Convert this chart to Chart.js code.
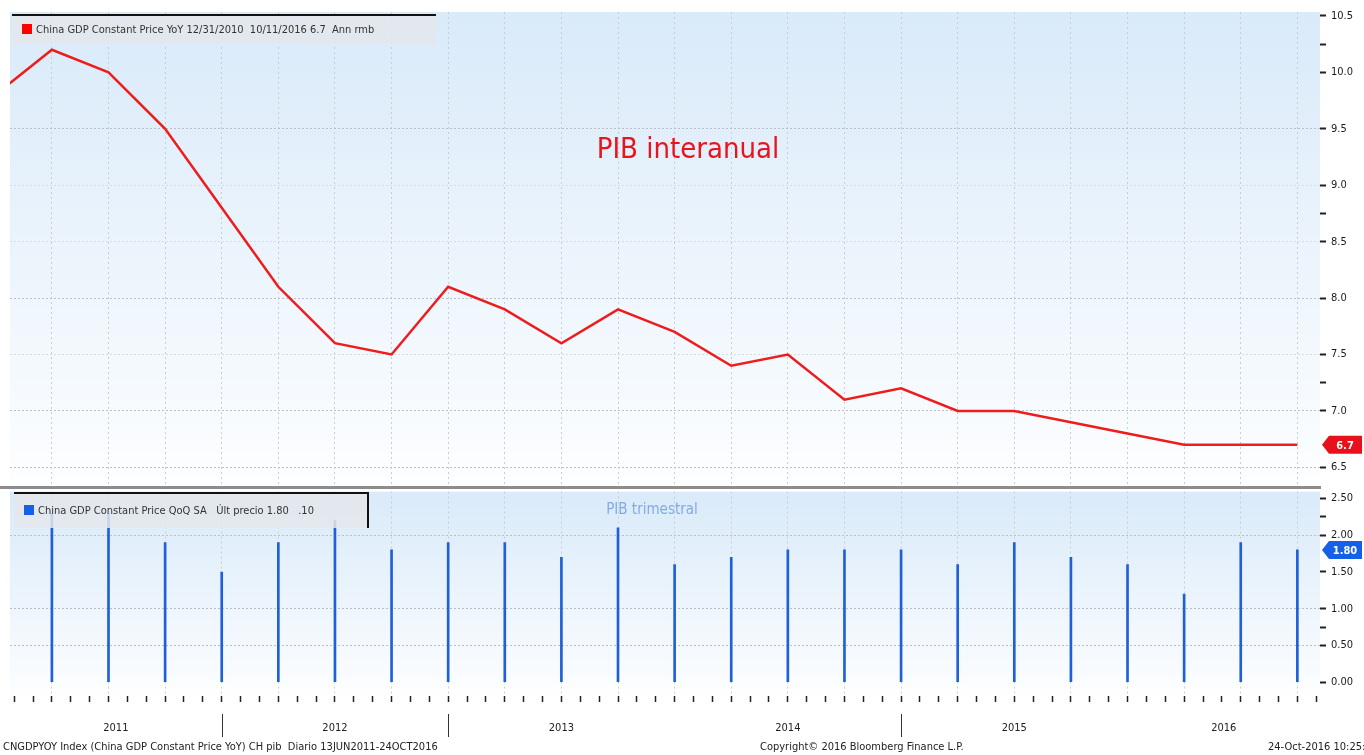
<!DOCTYPE html>
<html>
<head>
<meta charset="utf-8">
<script src="https://cdn.jsdelivr.net/npm/chart.js@4.4.1/dist/chart.umd.min.js"></script>
<style>
    body { margin: 0; background: #fff; width: 1364px; height: 755px; overflow: hidden; position: relative; }
    canvas { position: absolute; left: 0; }
    #yoyChart { top: 0; }
    #qoqChart { top: 480px; }
    #separator { position: absolute; left: 0; top: 486px; width: 1321px; height: 3px; background: #8c8c8c; }
    .footer { position: absolute; top: 740px; font: 11px "DejaVu Sans Condensed", "DejaVu Sans", sans-serif; color: #222; white-space: nowrap; }
</style>
</head>
<body>
<canvas id="yoyChart" width="1364" height="497"></canvas>
<canvas id="qoqChart" width="1364" height="275"></canvas>
<div id="separator"></div>
<div class="footer" style="left:3px">CNGDPYOY Index (China GDP Constant Price YoY) CH pib&nbsp; Diario 13JUN2011-24OCT2016</div>
<div class="footer" style="left:760px">Copyright© 2016 Bloomberg Finance L.P.</div>
<div class="footer" style="left:1268px">24-Oct-2016 10:25:30</div>
<script>
// quarterly observations, 4T 2010 -> 3T 2016
const quarters = [
    '4T10', '1T11', '2T11', '3T11', '4T11', '1T12', '2T12', '3T12', '4T12',
    '1T13', '2T13', '3T13', '4T13', '1T14', '2T14', '3T14', '4T14',
    '1T15', '2T15', '3T15', '4T15', '1T16', '2T16', '3T16'
];
const yoyValues = [
    9.8, 10.2, 10.0, 9.5, 8.8, 8.1, 7.6, 7.5, 8.1,
    7.9, 7.6, 7.9, 7.7, 7.4, 7.5, 7.1, 7.2,
    7.0, 7.0, 6.9, 6.8, 6.7, 6.7, 6.7
];
const qoqValues = [
    null, 2.3, 2.3, 1.9, 1.5, 1.9, 2.2, 1.8, 1.9,
    1.9, 1.7, 2.1, 1.6, 1.7, 1.8, 1.8, 1.8,
    1.6, 1.9, 1.7, 1.6, 1.2, 1.9, 1.8
];
const years = ['2011', '2012', '2013', '2014', '2015', '2016'];
const yearStarts = [0, 4, 8, 12, 16, 20];
const yearDividers = [4, 8, 16];
const yoyTicks = [6.5, 7.0, 7.25, 7.5, 8.0, 8.5, 8.75, 9.0, 9.5, 10.0, 10.25, 10.5];
const qoqTicks = [0, 0.5, 0.75, 1.0, 1.5, 2.0, 2.25, 2.5];

const FONT = '"DejaVu Sans Condensed", "DejaVu Sans", sans-serif';
const X_MIN = 0.26;
const X_MAX = 23.4;

document.addEventListener('DOMContentLoaded', () => {
    Chart.defaults.font.family = FONT;
    Chart.defaults.font.size = 11;
    Chart.defaults.color = '#222';

    initYoyChart();
    initQoqChart();
});

function isWhole(v) {
    return Math.abs(v - Math.round(v)) < 1e-6;
}

const panelBackground = {
    id: 'panelBackground',
    beforeDraw(chart) {
        const { ctx, chartArea: a } = chart;
        const g = ctx.createLinearGradient(0, a.top, 0, a.bottom);
        g.addColorStop(0, '#d9eaf9');
        g.addColorStop(1, '#fdfeff');
        ctx.save();
        ctx.fillStyle = g;
        ctx.fillRect(a.left, a.top, a.right - a.left, a.bottom - a.top);
        ctx.restore();
    }
};

function drawBadge(ctx, x, y, text, color) {
    ctx.save();
    ctx.fillStyle = color;
    ctx.beginPath();
    ctx.moveTo(x, y);
    ctx.lineTo(x + 7, y - 9);
    ctx.lineTo(x + 40, y - 9);
    ctx.lineTo(x + 40, y + 9);
    ctx.lineTo(x + 7, y + 9);
    ctx.closePath();
    ctx.fill();
    ctx.fillStyle = '#fff';
    ctx.font = 'bold 11px ' + FONT;
    ctx.textAlign = 'center';
    ctx.textBaseline = 'middle';
    ctx.fillText(text, x + 23, y + 1);
    ctx.restore();
}

function drawLegendBox(ctx, box, swatch, text, rightBorder) {
    ctx.save();
    ctx.fillStyle = 'rgba(228, 232, 236, 0.85)';
    ctx.fillRect(box.x, box.y, box.w, box.h);
    ctx.strokeStyle = '#111';
    ctx.lineWidth = 2;
    ctx.beginPath();
    ctx.moveTo(box.x, box.y + 1);
    ctx.lineTo(box.x + box.w, box.y + 1);
    if (rightBorder) ctx.lineTo(box.x + box.w, box.y + box.h);
    ctx.stroke();
    ctx.fillStyle = swatch;
    ctx.fillRect(box.x + 10, box.y + box.h / 2 - 5, 10, 10);
    ctx.fillStyle = '#333';
    ctx.font = '11px ' + FONT;
    ctx.textBaseline = 'middle';
    ctx.fillText(text, box.x + 24, box.y + box.h / 2 + 1);
    ctx.restore();
}

function xScaleOptions(monthly, showTicks) {
    return {
        type: 'linear',
        min: X_MIN,
        max: X_MAX,
        offset: false,
        afterBuildTicks: scale => {
            const step = monthly ? 3 : 1;
            const ticks = [];
            for (let k = Math.ceil(X_MIN * step); k <= Math.floor(X_MAX * step); k++) {
                ticks.push({ value: k / step });
            }
            scale.ticks = ticks;
        },
        ticks: { display: false },
        grid: {
            offset: false,
            drawTicks: showTicks,
            tickLength: 6,
            tickWidth: 1.5,
            tickColor: '#222',
            color: ctx => isWhole(ctx.tick.value) ? '#c9ced5' : 'rgba(0,0,0,0)'
        },
        border: { display: false, dash: [2, 3] }
    };
}

function yScaleOptions(tickValues, min, max, digits, gridColor) {
    return {
        position: 'right',
        min: min,
        max: max,
        afterBuildTicks: scale => {
            scale.ticks = tickValues.map(v => ({ value: v }));
        },
        afterFit: scale => {
            scale.width = 44;
        },
        ticks: {
            padding: 5,
            color: '#1a1a1a',
            callback: v => isWhole(v * 2) ? v.toFixed(digits) : ''
        },
        grid: {
            tickLength: 6,
            tickWidth: 2,
            tickColor: '#222',
            color: ctx => gridColor(ctx.tick.value)
        },
        border: { display: false, dash: [2, 2] }
    };
}

function initYoyChart() {
    const decor = {
        id: 'yoyDecor',
        afterDraw(chart) {
            const { ctx, scales } = chart;
            drawLegendBox(ctx, { x: 12, y: 14, w: 424, h: 30 }, '#ff0000',
                'China GDP Constant Price YoY 12/31/2010  10/11/2016 6.7  Ann rmb', false);

            ctx.save();
            ctx.fillStyle = '#e8141e';
            ctx.font = '29px ' + FONT;
            ctx.textAlign = 'center';
            ctx.textBaseline = 'middle';
            ctx.fillText('PIB interanual', 688, 150);
            ctx.restore();

            const last = yoyValues[yoyValues.length - 1];
            drawBadge(ctx, 1322, scales.y.getPixelForValue(last), last.toFixed(1), '#e8101a');
        }
    };

    const strong = [9.5, 8.0, 7.0, 6.5];
    const faint = [9.0, 8.5, 7.5];

    new Chart(document.getElementById('yoyChart'), {
        type: 'line',
        data: {
            datasets: [{
                data: quarters.map((q, i) => ({ x: i, y: yoyValues[i] })),
                borderColor: '#ee1c1c',
                borderWidth: 2.5,
                pointRadius: 0,
                tension: 0
            }]
        },
        options: {
            responsive: false,
            animation: false,
            layout: { padding: { left: 10, top: 12, right: 0, bottom: 3 } },
            plugins: {
                legend: { display: false },
                tooltip: { enabled: false }
            },
            scales: {
                x: xScaleOptions(false, false),
                y: yScaleOptions(yoyTicks, 6.34, 10.535, 1, v => {
                    if (strong.includes(v)) return '#b9bfc7';
                    if (faint.includes(v)) return '#d6dde5';
                    return 'rgba(0,0,0,0)';
                })
            }
        },
        plugins: [panelBackground, decor]
    });
}

function initQoqChart() {
    const decor = {
        id: 'qoqDecor',
        afterDraw(chart) {
            const { ctx, scales } = chart;
            drawLegendBox(ctx, { x: 14, y: 12, w: 354, h: 36 }, '#1560e8',
                'China GDP Constant Price QoQ SA   Últ precio 1.80   .10', true);

            ctx.save();
            ctx.fillStyle = '#86a9e6';
            ctx.font = '15px ' + FONT;
            ctx.textAlign = 'center';
            ctx.textBaseline = 'middle';
            ctx.fillText('PIB trimestral', 652, 30);

            // year labels centred on the visible part of each year
            const x = scales.x;
            ctx.fillStyle = '#222';
            ctx.font = '11px ' + FONT;
            years.forEach((year, i) => {
                const from = Math.max(yearStarts[i], x.min);
                const to = Math.min(yearStarts[i] + 4, x.max);
                ctx.fillText(year, x.getPixelForValue((from + to) / 2), 248);
            });

            ctx.strokeStyle = '#333';
            ctx.lineWidth = 1;
            yearDividers.forEach(d => {
                const px = Math.round(x.getPixelForValue(d)) + 0.5;
                ctx.beginPath();
                ctx.moveTo(px, 234);
                ctx.lineTo(px, 257);
                ctx.stroke();
            });
            ctx.restore();

            const last = qoqValues[qoqValues.length - 1];
            drawBadge(ctx, 1322, scales.y.getPixelForValue(last), last.toFixed(2), '#1560e8');
        }
    };

    const strong = [2.0, 1.0, 0.5];

    new Chart(document.getElementById('qoqChart'), {
        type: 'bar',
        data: {
            datasets: [{
                data: quarters
                    .map((q, i) => ({ x: i, y: qoqValues[i] }))
                    .filter(p => p.y !== null),
                backgroundColor: '#1f5fd8',
                barThickness: 2
            }]
        },
        options: {
            responsive: false,
            animation: false,
            layout: { padding: { left: 10, top: 2, right: 0, bottom: 53 } },
            plugins: {
                legend: { display: false },
                tooltip: { enabled: false }
            },
            scales: {
                x: xScaleOptions(true, true),
                y: yScaleOptions(qoqTicks, -0.19, 2.595, 2, v =>
                    strong.includes(v) ? '#b9bfc7' : 'rgba(0,0,0,0)')
            }
        },
        plugins: [panelBackground, decor]
    });
}
</script>
</body>
</html>
